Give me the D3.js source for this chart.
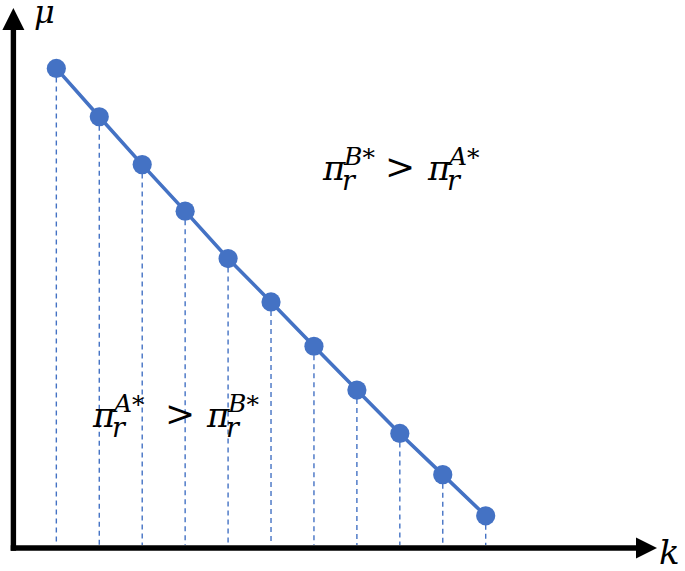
<!DOCTYPE html>
<html lang="en">
<head>
    <meta charset="UTF-8">
    <script src="https://d3js.org/d3.v7.min.js"></script>
    <title>mu vs k</title>
    <style>
        body { margin: 0; background: #fff; }
        .math { font-family: "DejaVu Serif", serif; font-style: italic; fill: #000; }
        .op { font-style: normal; }
    </style>
</head>
<body>
    <div id="container"></div>
    <script>
        /*----------------- data -----------------*/
        const kValues = [1, 2, 3, 4, 5, 6, 7, 8, 9, 10, 11]
        const muValues = [10.72, 9.64, 8.57, 7.53, 6.47, 5.5, 4.51, 3.53, 2.56, 1.64, 0.72]

        // region labels: superscripts of the two pi terms
        const regionLabels = [
            { first: "B", second: "A" },   // above the line
            { first: "A", second: "B" }    // below the line
        ]

        /*----------------- window -----------------*/
        const W = 685, H = 571
        const blue = "#4472C4"

        const svg = d3.select("#container").append("svg")
            .attr("width", W)
            .attr("height", H)

        /*----------------- scales -----------------*/
        const x = d3.scaleLinear().domain([0, 11]).range([13.4, 485.7])
        const y = d3.scaleLinear().domain([0, 11]).range([548, 55.9])

        const pts = kValues.map((k, i) => ({ k: k, mu: muValues[i] }))

        /*----------------- axes with arrow heads -----------------*/
        const x0 = x(0), y0 = y(0)
        svg.append("line")
            .attr("x1", x0).attr("y1", y0 + 2.7)
            .attr("x2", x0).attr("y2", 28)
            .attr("stroke", "#000").attr("stroke-width", 5.4)
        svg.append("line")
            .attr("x1", x0 - 2.7).attr("y1", y0)
            .attr("x2", 640).attr("y2", y0)
            .attr("stroke", "#000").attr("stroke-width", 5.6)
        // up arrow
        svg.append("path")
            .attr("d", `M${x0},8 L${x0 + 11},30 L${x0 - 11},30 Z`)
            .attr("fill", "#000")
        // right arrow
        svg.append("path")
            .attr("d", `M657,${y0} L636,${y0 - 10.5} L636,${y0 + 10.5} Z`)
            .attr("fill", "#000")

        svg.append("text").attr("class", "math")
            .attr("x", 34).attr("y", 23)
            .style("font-size", "32px")
            .text("μ")
        svg.append("text").attr("class", "math")
            .attr("x", 659).attr("y", 564)
            .style("font-size", "34px")
            .text("k")

        /*----------------- dashed drop lines -----------------*/
        svg.selectAll("line.drop")
            .data(pts)
            .enter()
            .append("line")
            .attr("class", "drop")
            .attr("x1", d => x(d.k)).attr("x2", d => x(d.k))
            .attr("y1", d => y(d.mu)).attr("y2", y0 - 3)
            .attr("stroke", blue)
            .attr("stroke-width", 1.4)
            .attr("stroke-dasharray", "5,4")

        /*----------------- the line and points -----------------*/
        const line = d3.line().x(d => x(d.k)).y(d => y(d.mu))
        svg.append("path")
            .datum(pts)
            .attr("d", line)
            .attr("fill", "none")
            .attr("stroke", blue)
            .attr("stroke-width", 3.6)

        svg.selectAll("circle")
            .data(pts)
            .enter()
            .append("circle")
            .attr("cx", d => x(d.k))
            .attr("cy", d => y(d.mu))
            .attr("r", 9.6)
            .attr("fill", blue)

        /*----------------- inequality labels -----------------*/
        // pi_r^{first*} > pi_r^{second*}, one text element with positioned tspans
        function drawIneq(px, base, gt, px2, lab) {
            const t = svg.append("text").attr("class", "math")
            const piece = (xx, yy, txt, size, cls) => t.append("tspan")
                .attr("class", cls || null).attr("x", xx).attr("y", yy)
                .style("font-size", size + "px").text(txt)
            ;[[px, lab.first], [px2, lab.second]].forEach(([p, s]) => {
                piece(p, base, "π", 34)
                piece(p + 19, base + 10, "r", 27)
                const sup = piece(p + 21, base - 15, s, 25)
                const w = sup.node().getComputedTextLength()
                piece(p + 21 + w, base - 14, "*", 25, "op")
            })
            piece(gt, base - 1, ">", 36, "op")
        }
        drawIneq(323, 180, 385, 428, regionLabels[0])
        drawIneq(93, 427, 165, 207, regionLabels[1])
    </script>
</body>
</html>
